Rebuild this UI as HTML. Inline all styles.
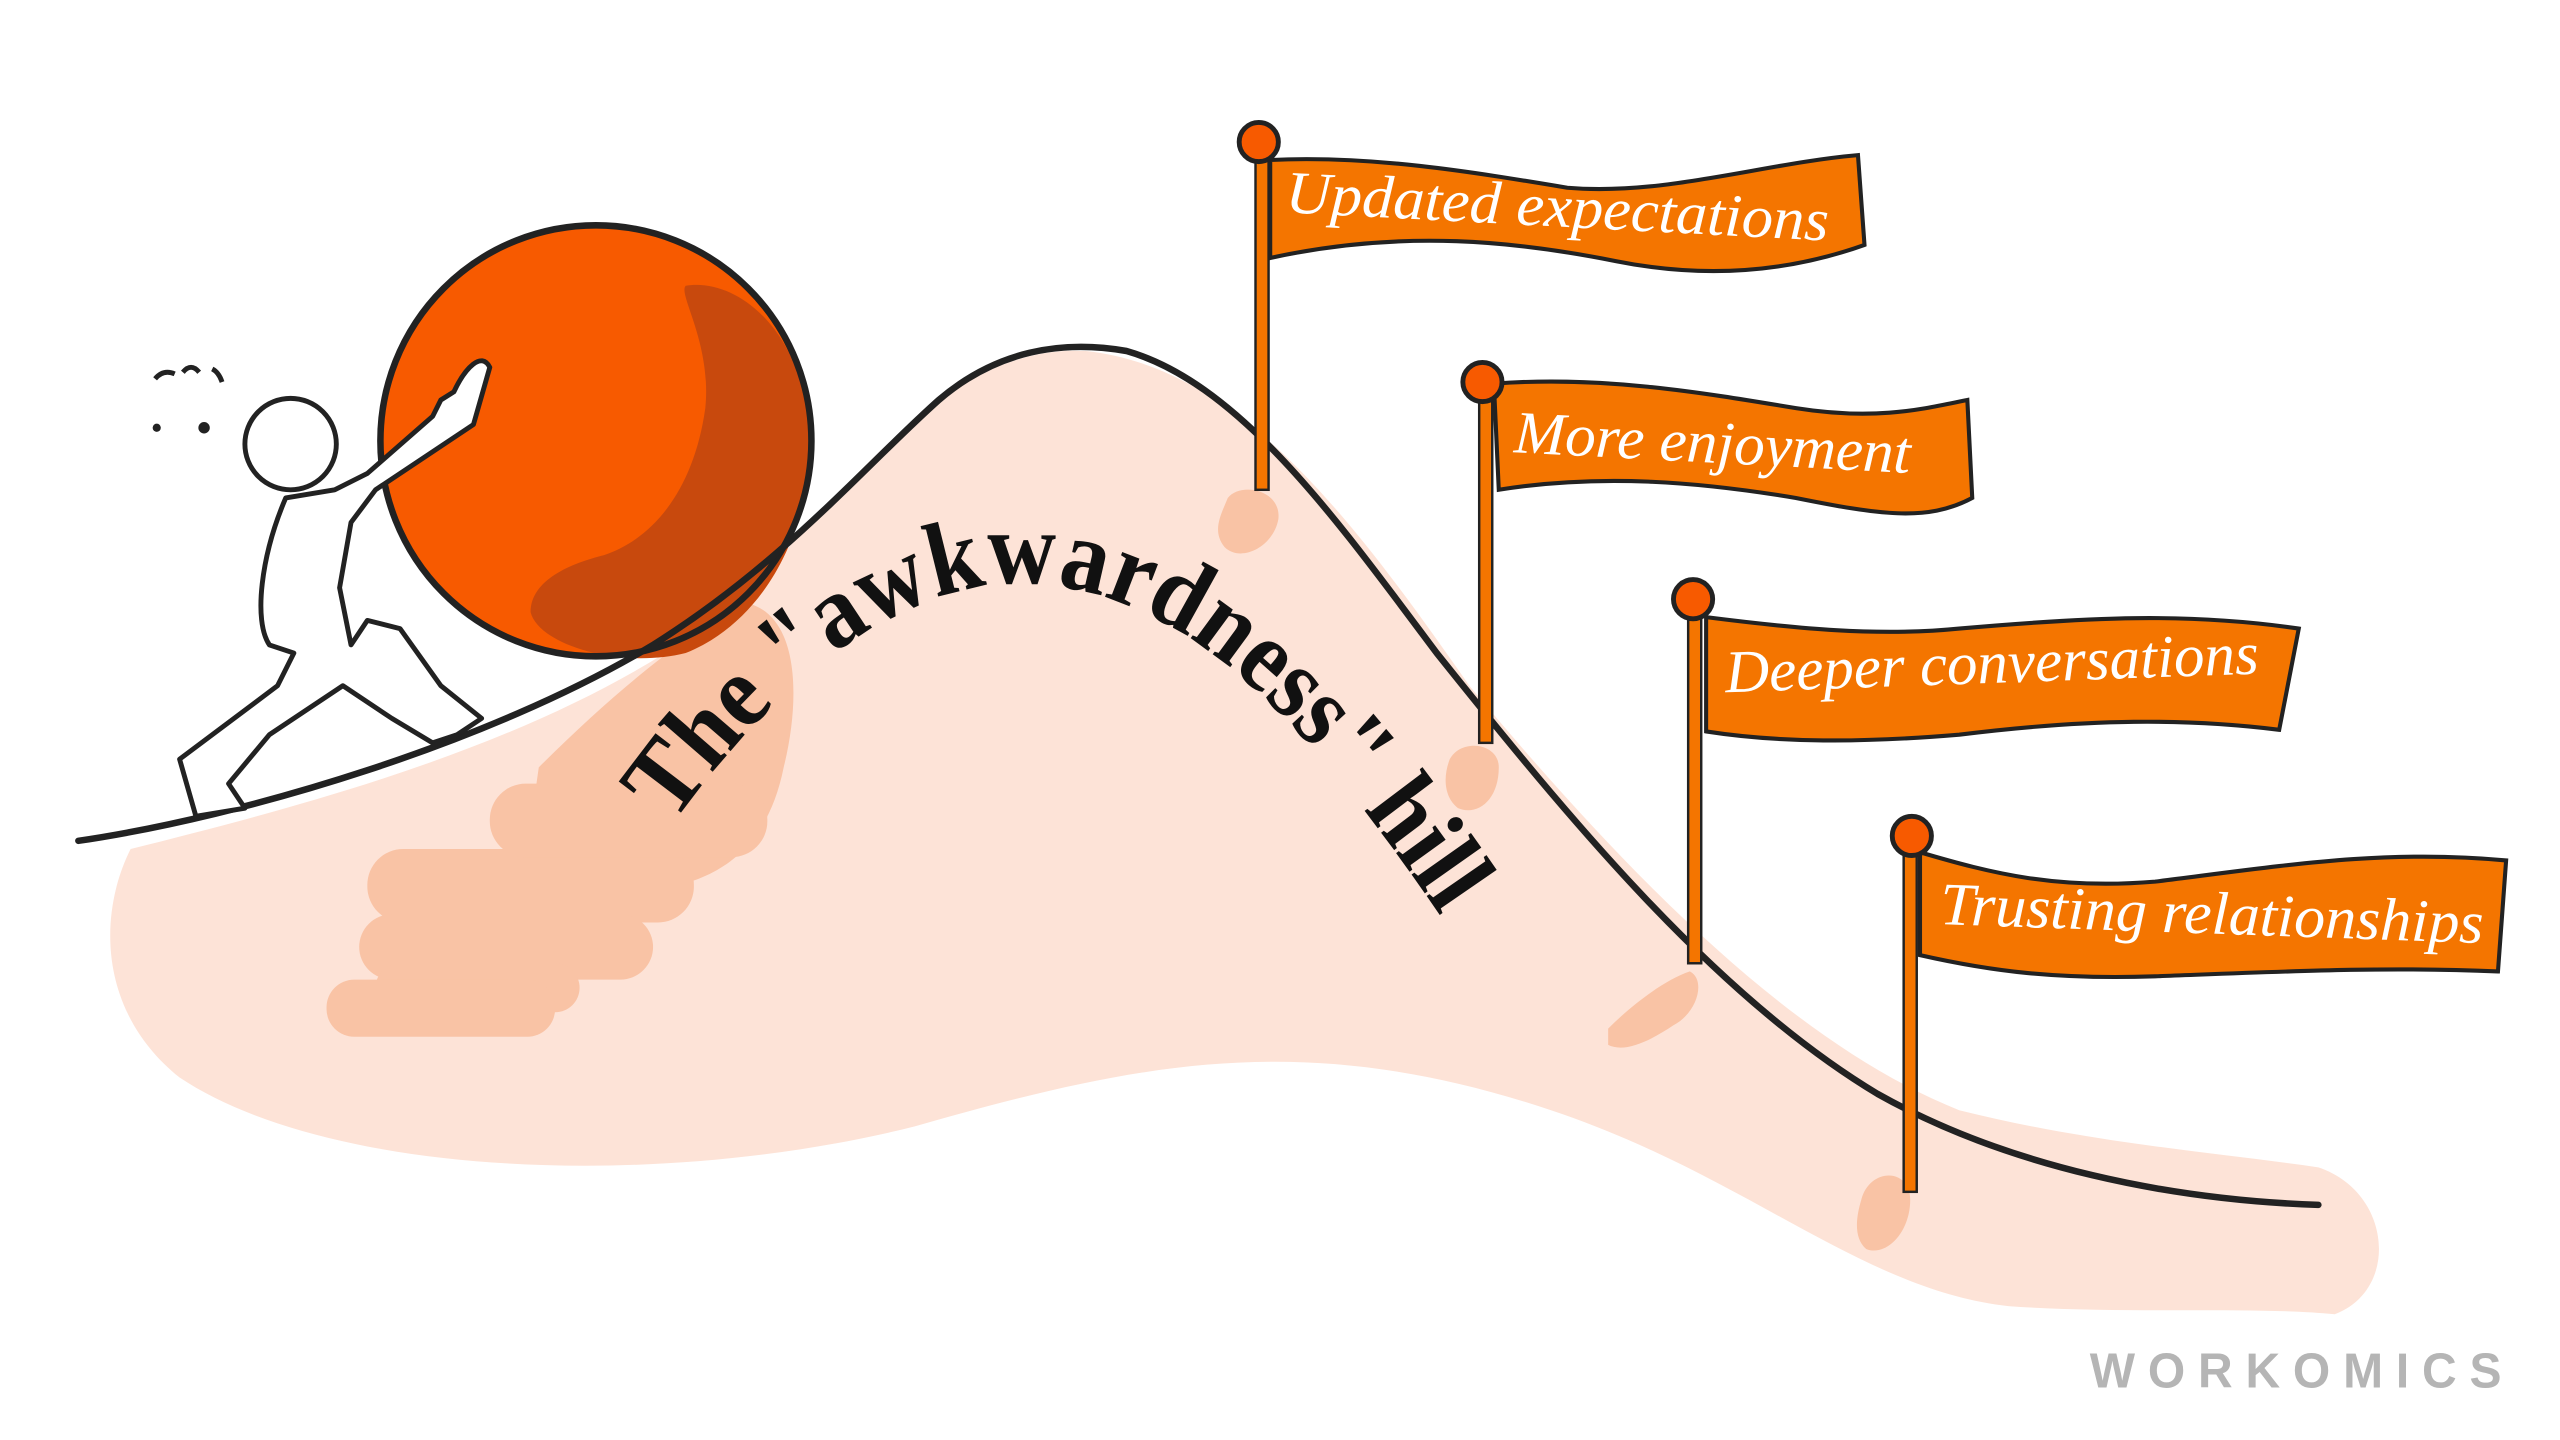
<!DOCTYPE html>
<html><head><meta charset="utf-8"><style>
html,body{margin:0;padding:0;background:#fff;}
svg{display:block;}
</style></head><body>
<svg width="2560" height="1440" viewBox="0 0 1568 882" xmlns="http://www.w3.org/2000/svg">
<rect width="1568" height="882" fill="#fff"/>
<!-- hill fill -->
<path d="M80,520 C60,560 60,620 110,660 C200,720 400,730 560,690 C700,650 800,630 950,680 C1070,720 1140,790 1230,800 C1300,805 1380,800 1430,805 C1470,790 1465,730 1420,715 C1350,705 1280,700 1200,680 C1100,640 1000,540 900,420 C830,320 760,225 665,215 C580,210 520,300 450,370 C350,450 200,490 80,520 Z" fill="#fde3d7"/>
<!-- darker patches -->
<g fill="#f9c3a5">
<path d="M330,470 C380,420 430,380 460,370 C490,380 490,430 480,470 C470,520 440,540 400,545 C370,560 330,560 320,540 Z"/>
<rect x="225" y="520" width="200" height="45" rx="22"/>
<rect x="220" y="560" width="180" height="40" rx="20"/>
<rect x="230" y="590" width="125" height="30" rx="15"/>
<rect x="200" y="600" width="140" height="35" rx="17"/>
<rect x="300" y="480" width="170" height="45" rx="22"/>
<path d="M752,305 C760,295 785,300 783,318 C780,335 760,345 750,335 C742,325 748,315 752,305Z"/>
<path d="M888,465 C895,452 918,455 918,470 C918,490 905,500 893,495 C884,488 884,475 888,465Z"/>
<path d="M985,630 C1000,615 1020,600 1035,595 C1045,600 1040,620 1025,628 C1010,638 995,645 985,640Z"/>
<path d="M1140,735 C1145,715 1170,715 1170,735 C1170,755 1155,770 1143,765 C1135,758 1137,745 1140,735Z"/>
</g>
<!-- ball -->
<circle cx="365" cy="270" r="132" fill="#f75a00"/>
<path d="M420,175 C450,170 490,200 495,260 C500,320 470,380 420,400 C380,410 330,395 325,375 C325,355 350,345 370,340 C400,330 425,300 432,250 C436,210 415,180 420,175Z" fill="#c8490d"/>
<circle cx="365" cy="270" r="132" fill="none" stroke="#222" stroke-width="4"/>
<!-- hill line -->
<path d="M48,515 C150,500 300,455 400,395 C480,345 530,285 575,245 C610,215 650,208 690,215 C760,235 820,320 880,400 C960,500 1050,610 1150,670 C1230,715 1330,735 1420,738" fill="none" stroke="#222" stroke-width="4" stroke-linecap="round"/>
<!-- person -->
<g fill="#fff" stroke="#222" stroke-width="3" stroke-linejoin="round" stroke-linecap="round">
<path d="M175,305 C160,340 155,380 165,395 L180,400 L170,420 L110,465 L120,500 L150,495 L140,480 L165,450 L210,420 L240,440 L265,455 L280,450 L295,440 L270,420 L245,385 L225,380 L215,395 L208,360 L215,320 L230,300 L290,260 L300,225 C295,215 285,225 278,240 L270,245 L265,255 L225,290 L205,300 Z"/>
<circle cx="178" cy="272" r="28"/>
</g>
<g fill="#222">
<path d="M95,232 q5,-6 12,-3" stroke="#222" stroke-width="3" fill="none"/>
<path d="M112,228 q5,-6 10,0" stroke="#222" stroke-width="3" fill="none"/>
<path d="M130,226 q4,2 6,8" stroke="#222" stroke-width="3" fill="none"/>
<circle cx="96" cy="262" r="2.5"/><circle cx="125" cy="262" r="3.5"/>
</g>
<!-- flags -->
<g>
<rect x="769" y="90" width="8" height="210" fill="#f47500" stroke="#222" stroke-width="1.5"/>
<path d="M778,98 C840,95 900,105 960,115 C1020,120 1080,100 1138,95 L1142,150 C1100,165 1050,172 990,160 C930,148 860,140 778,158 Z" fill="#f47500" stroke="#222" stroke-width="2.5"/>
<circle cx="771" cy="87" r="12" fill="#f75a00" stroke="#222" stroke-width="3"/>
<text x="787" y="130" transform="rotate(3 787 130)" font-family="Liberation Serif, serif" font-style="italic" font-size="37" fill="#fff" textLength="333" lengthAdjust="spacingAndGlyphs">Updated expectations</text>
<rect x="906" y="240" width="8" height="215" fill="#f47500" stroke="#222" stroke-width="1.5"/>
<path d="M915,235 C980,230 1040,240 1100,250 C1150,258 1180,250 1205,245 L1208,305 C1180,320 1150,315 1100,305 C1040,295 980,290 918,300 Z" fill="#f47500" stroke="#222" stroke-width="2.5"/>
<circle cx="908" cy="234" r="12" fill="#f75a00" stroke="#222" stroke-width="3"/>
<text x="927" y="277" transform="rotate(3 927 277)" font-family="Liberation Serif, serif" font-style="italic" font-size="37" fill="#fff" textLength="243" lengthAdjust="spacingAndGlyphs">More enjoyment</text>
<rect x="1034" y="372" width="8" height="218" fill="#f47500" stroke="#222" stroke-width="1.5"/>
<path d="M1045,378 C1100,385 1150,390 1200,385 C1280,378 1340,375 1408,385 L1396,447 C1340,440 1280,440 1200,450 C1140,455 1090,455 1045,448 Z" fill="#f47500" stroke="#222" stroke-width="2.5"/>
<circle cx="1037" cy="367" r="12" fill="#f75a00" stroke="#222" stroke-width="3"/>
<text x="1057" y="424" transform="rotate(-2 1057 424)" font-family="Liberation Serif, serif" font-style="italic" font-size="37" fill="#fff" textLength="327" lengthAdjust="spacingAndGlyphs">Deeper conversations</text>
<rect x="1166" y="518" width="8" height="212" fill="#f47500" stroke="#222" stroke-width="1.5"/>
<path d="M1176,522 C1220,535 1260,545 1320,540 C1400,530 1460,520 1535,527 L1530,595 C1460,592 1400,595 1320,598 C1260,600 1220,595 1176,585 Z" fill="#f47500" stroke="#222" stroke-width="2.5"/>
<circle cx="1171" cy="512" r="12" fill="#f75a00" stroke="#222" stroke-width="3"/>
<text x="1188" y="566" transform="rotate(2 1188 566)" font-family="Liberation Serif, serif" font-style="italic" font-size="37" fill="#fff" textLength="333" lengthAdjust="spacingAndGlyphs">Trusting relationships</text>
</g>
<!-- curved title -->
<defs><path id="tp" d="M412,505 C480,410 560,350 640,358 C730,368 800,440 885,565"/></defs>
<text font-family="Liberation Serif, serif" font-weight="bold" font-size="64" fill="#111"><textPath href="#tp" textLength="610" lengthAdjust="spacingAndGlyphs">The "awkwardness" hill</textPath></text>
<!-- logo -->
<text x="1280" y="850" font-family="Liberation Sans, sans-serif" font-weight="bold" font-size="30" letter-spacing="8" fill="#b5b5b5" textLength="260" lengthAdjust="spacingAndGlyphs">WORKOMICS</text>
</svg>
</body></html>
